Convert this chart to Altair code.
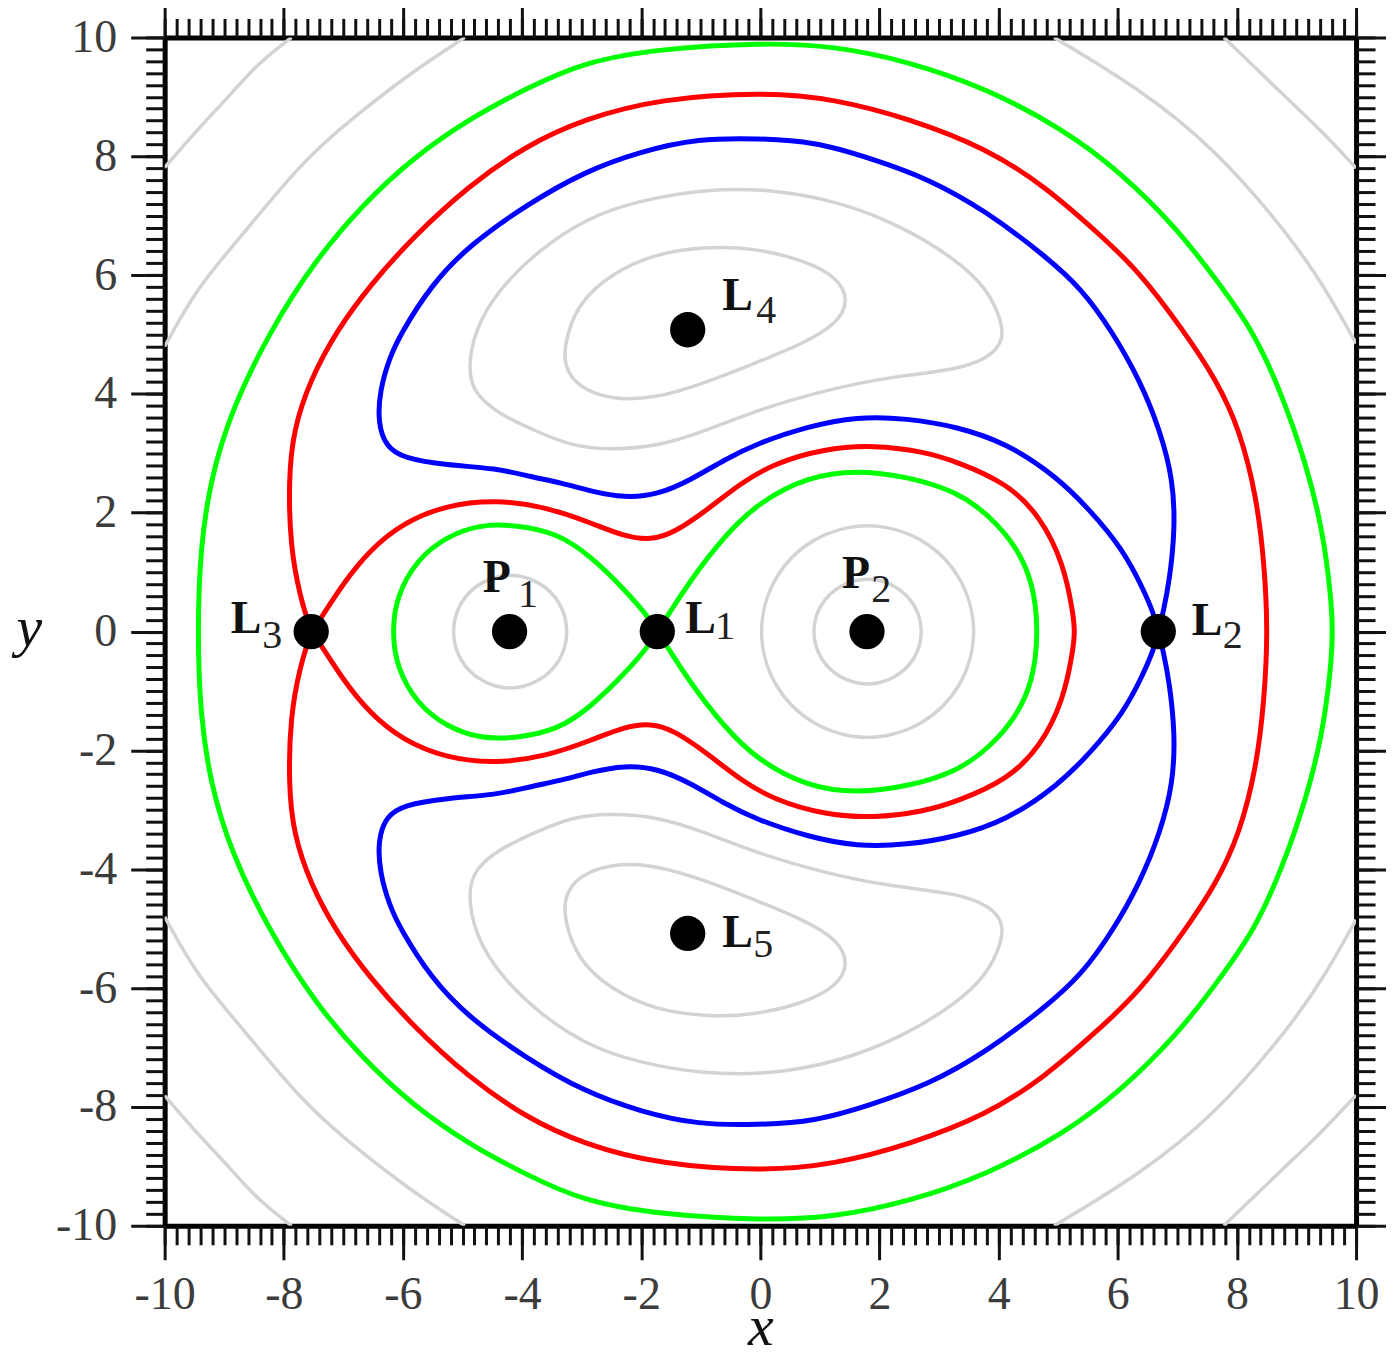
import altair as alt
import pandas as pd

# ---------------- colours / fonts ----------------
GRAY = "#d3d3d3"
GREEN = "#00ff00"
RED = "#ff0000"
BLUE = "#0000ff"
SERIF = "Liberation Serif"

# ---------------- axes ----------------
DOMAIN = [-10, 10]
MAJOR_TICKS = [-10, -8, -6, -4, -2, 0, 2, 4, 6, 8, 10]
MINOR_TICKS = [round(-10 + 0.2 * k, 1) for k in range(101)]

# ---------------- special points ----------------
PT_X = [-4.21, 1.79, -1.73, 6.68, -7.54, -1.22, -1.22]
PT_Y = [0.0, 0.0, 0.0, 0.0, 0.0, 5.08, -5.08]

LABEL_MAIN = ["P", "P", "L", "L", "L", "L", "L"]
LABEL_SUB = ["1", "2", "1", "2", "3", "4", "5"]
MAIN_X = [-4.66, 1.37, -1.26, 7.24, -8.89, -0.64, -0.64]
MAIN_Y = [0.66, 0.74, -0.02, -0.05, -0.02, 5.41, -5.31]
SUB_X = [-4.07, 1.86, -0.76, 7.76, -8.36, -0.07, -0.12]
SUB_Y = [0.42, 0.49, -0.13, -0.27, -0.27, 5.19, -5.47]

# ---------------- green curves ----------------
# outer oval, upper half, left end -> right end
GO_X = [-9.45, -9.40, -9.23, -8.90, -8.23, -7.45, -6.68, -5.85, -4.89, -3.93, -2.96, -1.68,
        0.03, 1.23, 2.51, 3.80, 5.08, 6.04, 7.00, 7.64, 8.30, 8.77, 9.16, 9.44, 9.58, 9.61]
GO_Y = [0.00, 1.43, 2.55, 3.68, 5.07, 6.28, 7.18, 7.96, 8.63, 9.14, 9.59, 9.81,
        9.91, 9.86, 9.59, 9.14, 8.46, 7.74, 6.78, 5.94, 5.03, 3.95, 2.83, 1.71, 0.59, 0.00]
# lobe round P1, upper half, L1 -> left end
GA_X = [-1.73, -1.89, -2.28, -2.84, -3.40, -4.15, -4.71, -5.27, -5.77, -6.11, -6.18]
GA_Y = [0.00, 0.26, 0.71, 1.26, 1.66, 1.80, 1.80, 1.60, 1.21, 0.59, 0.00]
# lobe round P2, upper half, L1 -> right end
GB_X = [-1.73, -1.56, -1.17, -0.61, -0.05, 0.79, 1.62, 2.46, 3.30, 3.86, 4.30, 4.58, 4.67]
GB_Y = [0.00, 0.26, 0.87, 1.60, 2.16, 2.61, 2.72, 2.61, 2.36, 1.94, 1.43, 0.82, 0.00]

# ---------------- red curves ----------------
# outer loop, upper half, L3 -> right end
RO_X = [-7.54, -7.73, -7.89, -7.92, -7.84, -7.56, -7.11, -6.55, -5.85, -4.89, -3.93, -2.96, -1.68,
        0.03, 1.23, 2.51, 3.80, 4.76, 5.71, 6.36, 7.10, 7.66, 8.05, 8.33, 8.46, 8.52]
RO_Y = [0.00, 0.59, 1.43, 2.55, 3.39, 4.23, 5.07, 5.83, 6.62, 7.51, 8.18, 8.63, 8.97,
        9.08, 8.97, 8.63, 8.13, 7.51, 6.67, 6.06, 5.07, 4.23, 3.39, 2.27, 1.15, 0.00]
# inner loop, upper half, L3 -> right end
RI_X = [-7.54, -7.39, -7.00, -6.55, -6.00, -5.27, -4.43, -3.60, -2.84, -2.28, -1.84, -1.45,
        -0.89, -0.33, 0.23, 1.07, 1.90, 2.74, 3.30, 4.14, 4.70, 5.09, 5.25, 5.28]
RI_Y = [0.00, 0.20, 0.82, 1.38, 1.83, 2.13, 2.22, 2.10, 1.83, 1.60, 1.54, 1.66,
        2.05, 2.50, 2.83, 3.08, 3.14, 3.03, 2.86, 2.50, 1.94, 1.15, 0.31, 0.00]

# ---------------- blue curve ----------------
# upper loop: L2 -> up the outside -> over the top -> round L4 -> back to L2
BU_X = [6.68, 6.76, 6.87, 6.96, 6.93, 6.71, 6.37, 5.92, 5.39, 4.76, 3.80, 2.83, 1.87, 0.90,
        -0.05, -1.04, -2.01, -2.96, -3.93, -4.89, -5.53, -6.05, -6.22, -6.39, -6.42, -6.28,
        -6.00, -5.27, -4.43, -3.87, -3.32, -2.84, -2.28, -1.73, -1.17, -0.61, -0.05, 0.79,
        1.62, 2.46, 3.30, 4.14, 4.97, 5.53, 6.09, 6.43, 6.60]
BU_Y = [0.00, 0.31, 0.87, 1.71, 2.55, 3.39, 4.23, 5.03, 5.78, 6.34, 7.07, 7.62, 7.96, 8.25,
        8.30, 8.30, 8.08, 7.74, 7.18, 6.50, 5.83, 4.99, 4.62, 4.06, 3.50, 3.11,
        2.92, 2.80, 2.75, 2.61, 2.50, 2.36, 2.25, 2.30, 2.55, 2.89, 3.17, 3.45,
        3.62, 3.59, 3.45, 3.17, 2.61, 2.05, 1.38, 0.71, 0.31]

# ---------------- gray closed contours ----------------
P1C_X = [-4.20, -3.73, -3.38, -3.25, -3.38, -3.73, -4.20, -4.67, -5.02, -5.15, -5.02, -4.67]
P1C_Y = [0.95, 0.82, 0.48, 0.00, -0.48, -0.82, -0.95, -0.82, -0.48, 0.00, 0.48, 0.82]
P2O_X = [1.80, 2.69, 3.34, 3.58, 3.34, 2.69, 1.80, 0.91, 0.26, 0.02, 0.26, 0.91]
P2O_Y = [1.78, 1.54, 0.89, 0.00, -0.89, -1.54, -1.78, -1.54, -0.89, 0.00, 0.89, 1.54]
P2I_X = [1.80, 2.25, 2.58, 2.70, 2.58, 2.25, 1.80, 1.35, 1.02, 0.90, 1.02, 1.35]
P2I_Y = [0.88, 0.76, 0.44, 0.00, -0.44, -0.76, -0.88, -0.76, -0.44, 0.00, 0.44, 0.76]
K4I_X = [-3.29, -3.07, -2.51, -1.78, -0.94, -0.11, 0.73, 1.29, 1.49, 1.29, 0.73, -0.11,
         -0.94, -1.78, -2.51, -3.07, -3.29]
K4I_Y = [4.85, 5.52, 6.02, 6.36, 6.48, 6.46, 6.25, 5.97, 5.58, 5.18, 4.85, 4.51,
         4.18, 3.92, 3.90, 4.12, 4.46]
K4O_X = [-4.91, -4.80, -4.41, -3.74, -2.90, -2.06, -0.94, 0.17, 1.29, 2.41, 3.30, 3.80, 4.05,
         4.08, 3.86, 3.30, 2.18, 1.07, -0.05, -0.89, -1.73, -2.56, -3.15, -3.74, -4.41, -4.80]
K4O_Y = [4.40, 5.07, 5.74, 6.41, 6.97, 7.25, 7.45, 7.45, 7.25, 6.81, 6.25, 5.78, 5.24,
         4.90, 4.62, 4.40, 4.29, 4.06, 3.73, 3.39, 3.11, 3.06, 3.12, 3.36, 3.67, 4.01]

# ---------------- gray arcs in the corners (upper corners) ----------------
TL1_X = [-7.87, -8.45, -8.88, -9.45, -10.0]
TL1_Y = [10.0, 9.55, 9.05, 8.45, 7.81]
TL2_X = [-4.96, -5.85, -6.90, -7.70, -8.74, -9.45, -10.0]
TL2_Y = [10.0, 9.42, 8.60, 7.90, 6.62, 5.80, 4.80]
TR1_X = [7.78, 8.79, 9.40, 10.0]
TR1_Y = [10.0, 9.02, 8.45, 7.80]
TR2_X = [4.93, 6.36, 7.64, 8.92, 9.50, 10.0]
TR2_Y = [10.0, 9.14, 8.13, 6.62, 5.75, 4.85]


def neg(v):
    return [-a for a in v]


def rows(name, xs, ys):
    return [{"c": name, "i": k, "x": a, "y": b} for k, (a, b) in enumerate(zip(xs, ys))]


# closed outer green oval
green_rows = rows("go", GO_X + GO_X[-2:0:-1], GO_Y + neg(GO_Y[-2:0:-1]))
# green figure eight crossing at L1
green_rows += rows("g8",
                   GA_X + GA_X[-2:0:-1] + GB_X + GB_X[-2:0:-1],
                   GA_Y + neg(GA_Y[-2:0:-1]) + GB_Y + neg(GB_Y[-2:0:-1]))
# red figure eight crossing at L3
red_rows = rows("r8",
                RO_X + RO_X[-2:0:-1] + RI_X + RI_X[-2:0:-1],
                RO_Y + neg(RO_Y[-2:0:-1]) + RI_Y + neg(RI_Y[-2:0:-1]))
# blue figure eight crossing at L2
blue_rows = rows("b8", BU_X + [BU_X[0]] + BU_X[1:], BU_Y + [BU_Y[0]] + neg(BU_Y[1:]))

gray_circles = rows("p1", P1C_X, P1C_Y) + rows("p2o", P2O_X, P2O_Y) + rows("p2i", P2I_X, P2I_Y)
gray_kidneys = (rows("k4i", K4I_X, K4I_Y) + rows("k4o", K4O_X, K4O_Y)
                + rows("k5i", K4I_X, neg(K4I_Y)) + rows("k5o", K4O_X, neg(K4O_Y)))
gray_open = (rows("tl1", TL1_X, TL1_Y) + rows("tl2", TL2_X, TL2_Y)
             + rows("tr1", TR1_X, TR1_Y) + rows("tr2", TR2_X, TR2_Y)
             + rows("bl1", TL1_X, neg(TL1_Y)) + rows("bl2", TL2_X, neg(TL2_Y))
             + rows("br1", TR1_X, neg(TR1_Y)) + rows("br2", TR2_X, neg(TR2_Y)))

pts = pd.DataFrame({"x": PT_X, "y": PT_Y})
lab_main = pd.DataFrame({"x": MAIN_X, "y": MAIN_Y, "t": LABEL_MAIN})
lab_sub = pd.DataFrame({"x": SUB_X, "y": SUB_Y, "t": LABEL_SUB})

sx = alt.Scale(domain=DOMAIN, nice=False, zero=False)
sy = alt.Scale(domain=DOMAIN, nice=False, zero=False)

TICK = dict(tickColor="#111111", tickWidth=3, grid=False)
LAB = dict(labelFont=SERIF, labelFontSize=46, labelColor="#3c3c3c", labelFlush=False,
           labelOverlap=False, labelExpr="toString(datum.value)")
TIT = dict(titleFont=SERIF, titleFontSize=58, titleFontStyle="italic", titleFontWeight="normal",
           titleColor="#111111", titleAlign="center", titleBaseline="alphabetic")

ax_bottom = alt.Axis(orient="bottom", values=MAJOR_TICKS, tickSize=34, domain=True,
                     domainColor="#000000", domainWidth=5, labels=True, labelPadding=13,
                     title="x", titleX=597, titleY=119, **LAB, **TIT, **TICK)
ax_left = alt.Axis(orient="left", values=MAJOR_TICKS, tickSize=34, domain=True,
                   domainColor="#000000", domainWidth=5, labels=True, labelPadding=14,
                   title="y", titleAngle=0, titleX=-136, titleY=609, **LAB, **TIT, **TICK)
ax_top = alt.Axis(orient="top", values=MAJOR_TICKS, tickSize=34, domain=True,
                  domainColor="#000000", domainWidth=5, labels=False, title=None, **TICK)
ax_right = alt.Axis(orient="right", values=MAJOR_TICKS, tickSize=34, domain=True,
                    domainColor="#000000", domainWidth=5, labels=False, title=None, **TICK)
ax_bottom_min = alt.Axis(orient="bottom", values=MINOR_TICKS, tickSize=19, domain=False,
                         labels=False, title=None, **TICK)
ax_left_min = alt.Axis(orient="left", values=MINOR_TICKS, tickSize=19, domain=False,
                       labels=False, title=None, **TICK)
ax_top_min = alt.Axis(orient="top", values=MINOR_TICKS, tickSize=19, domain=False,
                      labels=False, title=None, **TICK)
ax_right_min = alt.Axis(orient="right", values=MINOR_TICKS, tickSize=19, domain=False,
                        labels=False, title=None, **TICK)


def line_layer(data, color, width, interp, xaxis, yaxis):
    return alt.Chart(pd.DataFrame(data)).mark_line(
        color=color, strokeWidth=width, interpolate=interp, clip=True
    ).encode(
        x=alt.X("x:Q", scale=sx, axis=xaxis),
        y=alt.Y("y:Q", scale=sy, axis=yaxis),
        detail="c:N",
        order=alt.Order("i:Q"),
    )


l_gray_c = line_layer(gray_circles, GRAY, 3.5, "cardinal-closed", ax_bottom, ax_left)
l_gray_o = line_layer(gray_open, GRAY, 3.5, "basis", ax_bottom_min, ax_left_min)
l_gray_k = line_layer(gray_kidneys, GRAY, 3.5, "basis-closed", None, None)
l_green = line_layer(green_rows, GREEN, 5, "basis-closed", ax_top, ax_right)
l_red = line_layer(red_rows, RED, 5, "basis-closed", ax_top_min, ax_right_min)
l_blue = line_layer(blue_rows, BLUE, 5, "basis-closed", None, None)

l_pts = alt.Chart(pts).mark_circle(size=1250, color="#000000", opacity=1).encode(
    x=alt.X("x:Q", scale=sx, axis=None), y=alt.Y("y:Q", scale=sy, axis=None))

l_main = alt.Chart(lab_main).mark_text(
    align="left", baseline="alphabetic", font=SERIF, fontSize=46, fontWeight="bold", color="#111111"
).encode(x=alt.X("x:Q", scale=sx, axis=None), y=alt.Y("y:Q", scale=sy, axis=None), text="t:N")

l_sub = alt.Chart(lab_sub).mark_text(
    align="left", baseline="alphabetic", font=SERIF, fontSize=40, color="#222222"
).encode(x=alt.X("x:Q", scale=sx, axis=None), y=alt.Y("y:Q", scale=sy, axis=None), text="t:N")

chart = alt.layer(
    l_gray_c, l_gray_o, l_gray_k, l_green, l_red, l_blue, l_pts, l_main, l_sub
).resolve_axis(
    x="independent", y="independent"
).properties(
    width=1194, height=1191,
    autosize=alt.AutoSizeParams(type="none"),
    padding={"left": 157, "top": 28, "right": 30, "bottom": 124},
).configure_view(strokeWidth=0)

chart.save("out.html", embed_options={"renderer": "svg", "actions": False})
